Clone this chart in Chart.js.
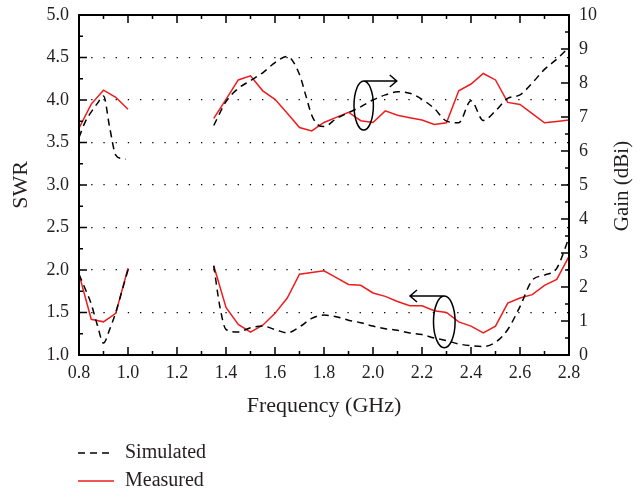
<!DOCTYPE html>
<html>
<head>
<meta charset="utf-8">
<script src="https://cdn.jsdelivr.net/npm/chart.js@4"></script>
<style>
  html, body { margin: 0; padding: 0; background: #fff; }
  #wrap { width: 641px; height: 494px; position: relative; }
</style>
</head>
<body>
<div id="wrap"><canvas id="chart"></canvas></div>
<script>
// ========== data ==========

// SWR, simulated (two bands)
const swrSimFreqLow  = [0.8, 0.825, 0.85, 0.875, 0.9, 0.925, 0.95, 0.975, 1.0];
const swrSimLow      = [1.95, 1.78, 1.60, 1.35, 1.14, 1.30, 1.50, 1.75, 2.00];
const swrSimFreqHigh = [1.35, 1.375, 1.4, 1.45, 1.5, 1.55, 1.6, 1.65, 1.7, 1.75, 1.8, 1.85, 1.9, 1.95, 2.0,
                        2.05, 2.1, 2.15, 2.2, 2.25, 2.3, 2.35, 2.4, 2.45, 2.5, 2.55, 2.6, 2.65, 2.7, 2.75, 2.8];
const swrSimHigh     = [2.05, 1.57, 1.30, 1.27, 1.32, 1.34, 1.30, 1.26, 1.33, 1.43, 1.47, 1.45, 1.41, 1.38, 1.34,
                        1.31, 1.29, 1.26, 1.24, 1.20, 1.17, 1.13, 1.11, 1.10, 1.15, 1.30, 1.57, 1.88, 1.94, 2.02, 2.38];

// SWR, measured
const swrMeasFreqLow  = [0.8, 0.85, 0.9, 0.95, 1.0];
const swrMeasLow      = [1.95, 1.42, 1.39, 1.49, 2.02];
const swrMeasFreqHigh = [1.35, 1.4, 1.45, 1.5, 1.55, 1.6, 1.65, 1.7, 1.75, 1.8, 1.85, 1.9, 1.95, 2.0, 2.05,
                         2.1, 2.15, 2.2, 2.25, 2.3, 2.35, 2.4, 2.45, 2.5, 2.55, 2.6, 2.65, 2.7, 2.75, 2.8];
const swrMeasHigh     = [2.05, 1.56, 1.36, 1.27, 1.35, 1.49, 1.67, 1.95, 1.97, 1.99, 1.91, 1.83, 1.82, 1.73, 1.69,
                         1.63, 1.58, 1.58, 1.52, 1.50, 1.39, 1.34, 1.26, 1.34, 1.61, 1.67, 1.71, 1.82, 1.89, 2.16];

// Gain (dBi), simulated
const gainSimFreqLow  = [0.8, 0.825, 0.85, 0.875, 0.9, 0.925, 0.95, 0.975, 0.99];
const gainSimLow      = [6.40, 6.85, 7.15, 7.40, 7.62, 6.70, 5.88, 5.78, 5.76];
const gainSimFreqHigh = [1.35, 1.4, 1.45, 1.5, 1.55, 1.6, 1.65, 1.7, 1.725, 1.75, 1.775, 1.8, 1.85, 1.9, 1.95,
                         2.0, 2.05, 2.1, 2.15, 2.2, 2.25, 2.3, 2.35, 2.4, 2.45, 2.5, 2.55, 2.6, 2.65, 2.7, 2.75, 2.8];
const gainSimHigh     = [6.75, 7.45, 7.84, 8.07, 8.30, 8.60, 8.78, 8.25, 7.65, 7.05, 6.77, 6.72, 6.95, 7.13, 7.30,
                         7.50, 7.65, 7.74, 7.70, 7.52, 7.25, 6.88, 6.83, 7.48, 6.90, 7.18, 7.55, 7.65, 8.00, 8.40, 8.70, 9.05];

// Gain (dBi), measured
const gainMeasFreqLow  = [0.8, 0.85, 0.9, 0.95, 1.0];
const gainMeasLow      = [6.67, 7.38, 7.79, 7.58, 7.23];
const gainMeasFreqHigh = swrMeasFreqHigh;
const gainMeasHigh     = [6.96, 7.52, 8.09, 8.21, 7.77, 7.52, 7.11, 6.69, 6.59, 6.84, 6.99, 7.14, 6.89, 6.84, 7.18,
                          7.05, 6.98, 6.91, 6.78, 6.83, 7.77, 7.97, 8.28, 8.09, 7.43, 7.37, 7.10, 6.83, 6.87, 6.91];

const FONT = "'Liberation Serif', 'DejaVu Serif', serif";
const RED = '#ee1c1c';
const INK = '#231f20';

// ========== helpers ==========

// two bands joined by a null point so the line breaks between them
function bands(fx1, v1, fx2, v2) {
  const pts = fx1.map((f, i) => ({ x: f, y: v1[i] }));
  pts.push({ x: 1.2, y: null });
  return pts.concat(fx2.map((f, i) => ({ x: f, y: v2[i] })));
}

function simStyle(axis) {
  return {
    borderColor: '#000', borderWidth: 1.5, borderDash: [7, 5],
    pointRadius: 0, cubicInterpolationMode: 'monotone', yAxisID: axis, spanGaps: false
  };
}
function measStyle(axis) {
  return {
    borderColor: RED, borderWidth: 1.5, tension: 0,
    pointRadius: 0, yAxisID: axis, spanGaps: false
  };
}

// ellipse with an arrow off its top, pointing at the axis it belongs to
function callout(ctx, x, y, freq, val, rx, ry, arrowFreq) {
  const cx = x.getPixelForValue(freq);
  const cy = y.getPixelForValue(val);
  const tx = x.getPixelForValue(arrowFreq);
  const top = cy - ry;
  ctx.beginPath();
  ctx.ellipse(cx, cy, rx, ry, 0, 0, Math.PI * 2);
  ctx.moveTo(cx, top);
  ctx.lineTo(tx, top);
  const dir = tx > cx ? -1 : 1;
  ctx.moveTo(tx + dir * 7, top - 6);
  ctx.lineTo(tx, top);
  ctx.lineTo(tx + dir * 7, top + 6);
  ctx.stroke();
}

// keep the plot box where the reference has it, whatever the label heights
function fixWidth(w) {
  return s => { s.width = w; s.paddingTop = 0; s.paddingBottom = 0; };
}

// frame, inward ticks, callouts, right title, legend
const decorPlugin = {
  id: 'decor',
  afterDraw(chart) {
    const { ctx, chartArea: a, scales } = chart;
    const x = scales.x, yL = scales.y, yR = scales.y2;
    ctx.save();
    ctx.strokeStyle = '#000';
    ctx.setLineDash([]);

    ctx.lineWidth = 1.5;
    ctx.beginPath();
    for (let i = 0; i <= 20; i++) {
      const px = x.getPixelForValue(0.8 + i * 0.1);
      const len = i % 2 === 0 ? 8 : 4;
      ctx.moveTo(px, a.bottom); ctx.lineTo(px, a.bottom - len);
      ctx.moveTo(px, a.top); ctx.lineTo(px, a.top + len);
    }
    for (let i = 0; i <= 16; i++) {
      const py = yL.getPixelForValue(1 + i * 0.25);
      ctx.moveTo(a.left, py); ctx.lineTo(a.left + (i % 2 === 0 ? 8 : 4), py);
    }
    for (let i = 0; i <= 20; i++) {
      const py = yR.getPixelForValue(i * 0.5);
      ctx.moveTo(a.right, py); ctx.lineTo(a.right - (i % 2 === 0 ? 8 : 4), py);
    }
    ctx.stroke();

    ctx.lineWidth = 2;
    ctx.strokeRect(a.left, a.top, a.right - a.left, a.bottom - a.top);

    ctx.lineWidth = 1.5;
    callout(ctx, x, yL, 1.962, 3.935, 9.7, 24.5, 2.097);
    callout(ctx, x, yL, 2.291, 1.39, 10.8, 25.8, 2.151);

    // right axis title reads bottom-to-top
    ctx.fillStyle = INK;
    ctx.font = '21px ' + FONT;
    ctx.textAlign = 'center';
    ctx.textBaseline = 'middle';
    ctx.save();
    ctx.translate(622, 186);
    ctx.rotate(-Math.PI / 2);
    ctx.fillText('Gain (dBi)', 0, 0);
    ctx.restore();

    // legend
    ctx.font = '20px ' + FONT;
    const seen = new Set();
    let ly = 453;
    chart.data.datasets.forEach(ds => {
      if (seen.has(ds.label)) return;
      seen.add(ds.label);
      ctx.strokeStyle = ds.borderColor;
      ctx.lineWidth = ds.borderWidth;
      ctx.setLineDash(ds.borderDash || []);
      ctx.beginPath();
      ctx.moveTo(78, ly); ctx.lineTo(114, ly);
      ctx.stroke();
      ctx.setLineDash([]);
      ctx.textAlign = 'left';
      ctx.fillText(ds.label, 125, ly);
      ly += 28;
    });
    ctx.restore();
  }
};

// ========== chart ==========

Chart.defaults.font.family = FONT;
Chart.defaults.color = INK;

new Chart(document.getElementById('chart'), {
  type: 'line',
  data: {
    datasets: [
      { label: 'Simulated', data: bands(swrSimFreqLow, swrSimLow, swrSimFreqHigh, swrSimHigh), ...simStyle('y') },
      { label: 'Measured', data: bands(swrMeasFreqLow, swrMeasLow, swrMeasFreqHigh, swrMeasHigh), ...measStyle('y') },
      { label: 'Simulated', data: bands(gainSimFreqLow, gainSimLow, gainSimFreqHigh, gainSimHigh), ...simStyle('y2') },
      { label: 'Measured', data: bands(gainMeasFreqLow, gainMeasLow, gainMeasFreqHigh, gainMeasHigh), ...measStyle('y2') }
    ]
  },
  options: {
    responsive: true,
    maintainAspectRatio: false,
    animation: false,
    layout: { padding: { top: 15, bottom: 75, left: 0, right: 0 } },
    plugins: { legend: { display: false }, tooltip: { enabled: false } },
    scales: {
      x: {
        type: 'linear', min: 0.8, max: 2.8,
        ticks: { stepSize: 0.2, padding: 7, font: { size: 18 }, callback: v => v.toFixed(1) },
        grid: { display: false, drawTicks: false },
        border: { display: false },
        title: { display: true, text: 'Frequency (GHz)', font: { size: 22 }, padding: { top: 0, bottom: 0 } },
        afterFit: s => { s.height = 64; }
      },
      y: {
        position: 'left', min: 1, max: 5,
        ticks: { stepSize: 0.5, padding: 10, font: { size: 18 }, callback: v => v.toFixed(1) },
        grid: {
          drawTicks: false, lineWidth: 1.3,
          color: c => (c.tick && (c.tick.value === 1 || c.tick.value === 5)) ? 'rgba(0,0,0,0)' : '#000'
        },
        border: { display: false, dash: [1.3, 10.9] },
        title: { display: true, text: 'SWR', font: { size: 22 }, padding: { top: 8, bottom: 0 } },
        afterFit: fixWidth(79)
      },
      y2: {
        position: 'right', min: 0, max: 10,
        ticks: { stepSize: 1, padding: 10, font: { size: 18 } },
        grid: { display: false, drawTicks: false },
        border: { display: false },
        afterFit: fixWidth(72)
      }
    }
  },
  plugins: [decorPlugin]
});
</script>
</body>
</html>
